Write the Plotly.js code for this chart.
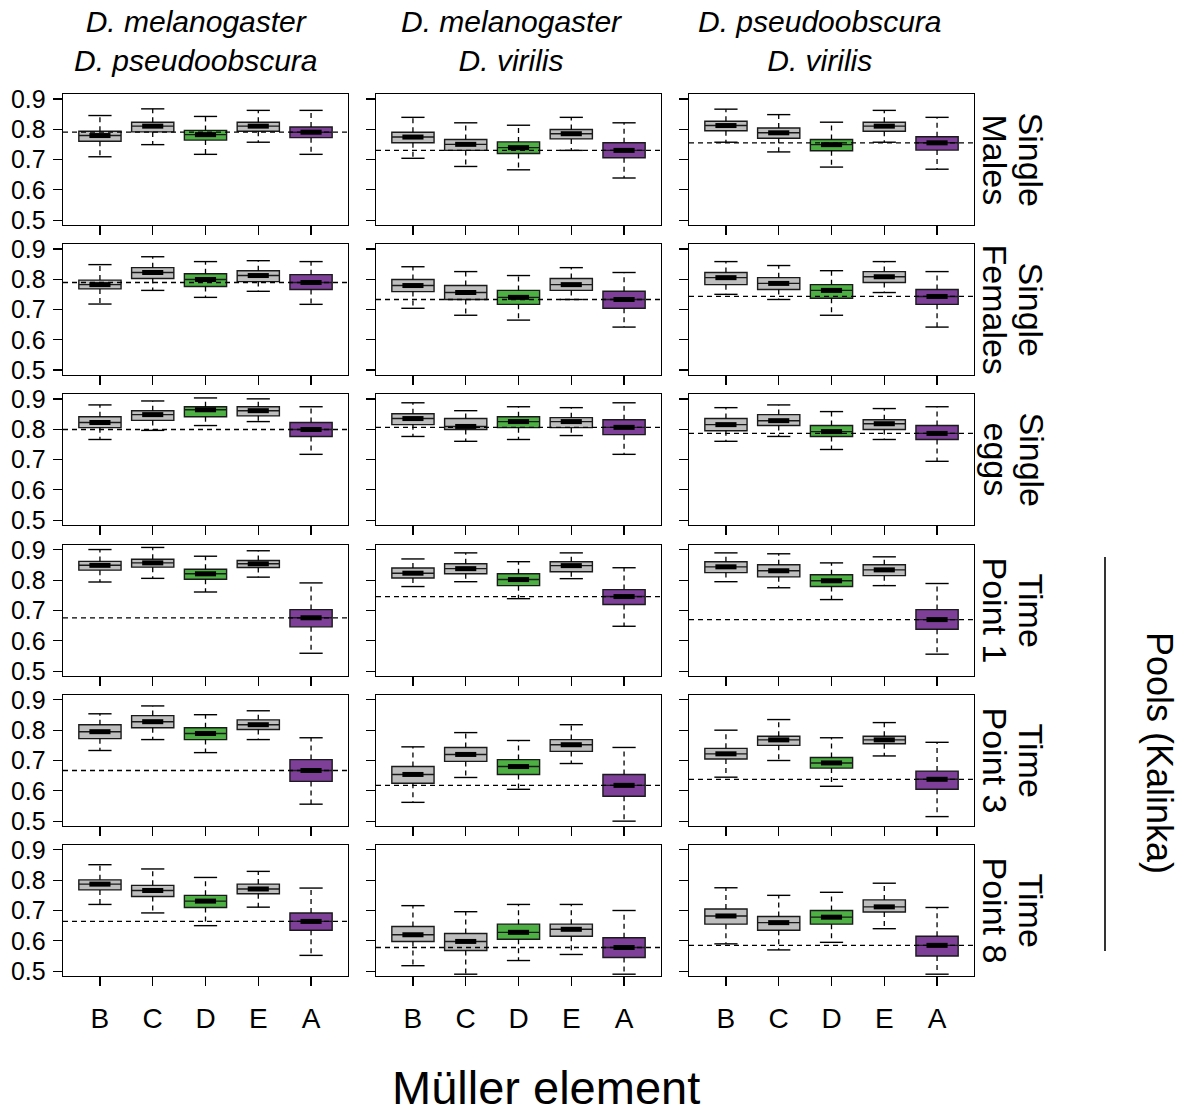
<!DOCTYPE html>
<html>
<head>
<meta charset="utf-8">
<script src="https://cdn.plot.ly/plotly-3.0.1.min.js"></script>
<style>html,body{margin:0;padding:0;background:#fff;}#chart{width:1189px;height:1115px;}</style>
</head>
<body>
<div id="chart"></div>
<script>
// ---------------- DATA ----------------
const categories = ['B', 'C', 'D', 'E', 'A'];
const colTitles = ['D. melanogaster<br>D. pseudoobscura', 'D. melanogaster<br>D. virilis', 'D. pseudoobscura<br>D. virilis'];
const rowLabelTop = ['Single', 'Single', 'Single', 'Time', 'Time', 'Time'];
const rowLabelBottom = ['Males', 'Females', 'eggs', 'Point 1', 'Point 3', 'Point 8'];
const groupLabel = 'Pools (Kalinka)';
const xTitle = 'Müller element';
const yTickVals = [0.5, 0.6, 0.7, 0.8, 0.9];
const yTickText = ['0.5', '0.6', '0.7', '0.8', '0.9'];
const boxColors = ['#BEBEBE', '#BEBEBE', '#4DB043', '#BEBEBE', '#7D3F98'];

// panels in reading order (row by row, 3 columns); each entry lists B, C, D, E, A
const lowerWhisker = [
  [0.709, 0.749, 0.717, 0.757, 0.717], [0.704, 0.677, 0.666, 0.730, 0.639], [0.757, 0.725, 0.675, 0.757, 0.668],
  [0.718, 0.763, 0.740, 0.760, 0.717], [0.704, 0.681, 0.665, 0.733, 0.642], [0.750, 0.733, 0.681, 0.756, 0.642],
  [0.766, 0.796, 0.812, 0.825, 0.717], [0.776, 0.760, 0.766, 0.779, 0.717], [0.760, 0.776, 0.733, 0.766, 0.694],
  [0.794, 0.806, 0.761, 0.810, 0.559], [0.779, 0.795, 0.739, 0.805, 0.648], [0.795, 0.775, 0.736, 0.782, 0.556],
  [0.733, 0.769, 0.726, 0.769, 0.556], [0.562, 0.644, 0.605, 0.690, 0.500], [0.645, 0.700, 0.615, 0.715, 0.515],
  [0.720, 0.692, 0.650, 0.711, 0.552], [0.518, 0.490, 0.535, 0.555, 0.490], [0.590, 0.570, 0.595, 0.640, 0.490]
];
const q1 = [
  [0.760, 0.791, 0.764, 0.793, 0.772], [0.755, 0.730, 0.720, 0.768, 0.706], [0.795, 0.770, 0.729, 0.793, 0.731],
  [0.768, 0.802, 0.776, 0.792, 0.766], [0.759, 0.733, 0.717, 0.763, 0.704], [0.782, 0.766, 0.737, 0.789, 0.717],
  [0.805, 0.829, 0.841, 0.844, 0.776], [0.815, 0.799, 0.805, 0.805, 0.782], [0.795, 0.812, 0.776, 0.799, 0.766],
  [0.833, 0.843, 0.803, 0.842, 0.646], [0.807, 0.821, 0.782, 0.828, 0.720], [0.825, 0.811, 0.779, 0.815, 0.638],
  [0.772, 0.808, 0.769, 0.802, 0.631], [0.625, 0.697, 0.654, 0.730, 0.582], [0.705, 0.750, 0.675, 0.755, 0.605],
  [0.768, 0.746, 0.710, 0.755, 0.635], [0.598, 0.568, 0.605, 0.615, 0.545], [0.655, 0.635, 0.655, 0.695, 0.550]
];
const median = [
  [0.779, 0.810, 0.782, 0.810, 0.790], [0.774, 0.750, 0.739, 0.785, 0.730], [0.812, 0.788, 0.749, 0.810, 0.755],
  [0.782, 0.822, 0.799, 0.812, 0.789], [0.779, 0.756, 0.740, 0.782, 0.733], [0.805, 0.786, 0.763, 0.808, 0.743],
  [0.822, 0.848, 0.864, 0.861, 0.799], [0.835, 0.809, 0.825, 0.825, 0.806], [0.815, 0.828, 0.792, 0.818, 0.786],
  [0.849, 0.857, 0.821, 0.854, 0.676], [0.823, 0.838, 0.802, 0.848, 0.746], [0.844, 0.831, 0.798, 0.834, 0.670],
  [0.795, 0.828, 0.789, 0.818, 0.667], [0.654, 0.720, 0.680, 0.752, 0.618], [0.722, 0.768, 0.692, 0.768, 0.638],
  [0.787, 0.766, 0.731, 0.771, 0.664], [0.620, 0.598, 0.628, 0.638, 0.578], [0.682, 0.660, 0.678, 0.712, 0.585]
];
const q3 = [
  [0.793, 0.823, 0.796, 0.823, 0.807], [0.790, 0.766, 0.758, 0.799, 0.755], [0.826, 0.804, 0.766, 0.823, 0.775],
  [0.797, 0.838, 0.818, 0.828, 0.815], [0.799, 0.779, 0.763, 0.802, 0.760], [0.822, 0.805, 0.782, 0.825, 0.766],
  [0.841, 0.861, 0.874, 0.874, 0.822], [0.851, 0.835, 0.841, 0.838, 0.831], [0.835, 0.848, 0.812, 0.831, 0.812],
  [0.862, 0.869, 0.836, 0.865, 0.703], [0.840, 0.854, 0.821, 0.861, 0.769], [0.861, 0.851, 0.818, 0.851, 0.703],
  [0.818, 0.848, 0.808, 0.834, 0.703], [0.680, 0.743, 0.703, 0.769, 0.654], [0.740, 0.780, 0.710, 0.780, 0.665],
  [0.801, 0.783, 0.750, 0.787, 0.692], [0.647, 0.624, 0.655, 0.655, 0.610], [0.705, 0.680, 0.700, 0.735, 0.615]
];
const upperWhisker = [
  [0.845, 0.867, 0.842, 0.862, 0.862], [0.839, 0.821, 0.813, 0.839, 0.821], [0.866, 0.848, 0.823, 0.862, 0.839],
  [0.848, 0.874, 0.858, 0.861, 0.858], [0.841, 0.825, 0.812, 0.838, 0.822], [0.858, 0.845, 0.828, 0.858, 0.825],
  [0.880, 0.893, 0.903, 0.900, 0.874], [0.887, 0.861, 0.874, 0.871, 0.887], [0.871, 0.880, 0.858, 0.868, 0.874],
  [0.901, 0.908, 0.879, 0.897, 0.791], [0.870, 0.890, 0.861, 0.890, 0.841], [0.890, 0.887, 0.857, 0.877, 0.789],
  [0.854, 0.880, 0.851, 0.864, 0.775], [0.745, 0.792, 0.766, 0.818, 0.743], [0.800, 0.835, 0.775, 0.825, 0.760],
  [0.851, 0.837, 0.809, 0.829, 0.774], [0.716, 0.696, 0.720, 0.720, 0.700], [0.775, 0.750, 0.760, 0.790, 0.710]
];
// dashed reference line = median of element A in each panel
const refIndex = 4;

// ---------------- LAYOUT GEOMETRY ----------------
const W = 1189, H = 1115;
const colLeft = [63, 376, 689], panelW = 285;
const rowTopPx = [94, 244, 394, 545, 695, 845], panelH = 131;
const FONT = 'Liberation Sans, Arial, Helvetica, sans-serif';
const boxW = 0.8, capHalf = 0.22, medHalf = 0.2;

const data = [];
const layout = {
  width: W, height: H, margin: {l: 0, r: 0, t: 0, b: 0},
  paper_bgcolor: '#fff', plot_bgcolor: '#fff', showlegend: false,
  font: {family: FONT, color: '#000'},
  shapes: [], annotations: []
};

for (let r = 0; r < 6; r++) {
  for (let c = 0; c < 3; c++) {
    const p = r * 3 + c;
    const n = p + 1;
    const xa = 'x' + (n > 1 ? n : '');
    const ya = 'y' + (n > 1 ? n : '');
    const xKey = 'xaxis' + (n > 1 ? n : '');
    const yKey = 'yaxis' + (n > 1 ? n : '');

    // boxes
    categories.forEach((cat, k) => {
      data.push({
        type: 'box', xaxis: xa, yaxis: ya,
        x: [k + 1], q1: [q1[p][k]], median: [median[p][k]], q3: [q3[p][k]],
        lowerfence: [q1[p][k]], upperfence: [q3[p][k]],
        width: boxW, whiskerwidth: 0, boxpoints: false,
        fillcolor: boxColors[k], line: {color: '#1a1a1a', width: 1.4},
        hoverinfo: 'skip'
      });
    });

    // whiskers (dashed), caps, median bars
    const wx = [], wy = [], cx = [], cy = [], mx = [], my = [];
    categories.forEach((cat, k) => {
      const xc = k + 1;
      wx.push(xc, xc, null, xc, xc, null);
      wy.push(q3[p][k], upperWhisker[p][k], null, q1[p][k], lowerWhisker[p][k], null);
      cx.push(xc - capHalf, xc + capHalf, null, xc - capHalf, xc + capHalf, null);
      cy.push(upperWhisker[p][k], upperWhisker[p][k], null, lowerWhisker[p][k], lowerWhisker[p][k], null);
      mx.push(xc - medHalf, xc + medHalf, null);
      my.push(median[p][k], median[p][k], null);
    });
    data.push({type: 'scatter', mode: 'lines', xaxis: xa, yaxis: ya, x: wx, y: wy,
      line: {color: '#000', width: 1.3, dash: '5px,4px'}, hoverinfo: 'skip'});
    data.push({type: 'scatter', mode: 'lines', xaxis: xa, yaxis: ya, x: cx, y: cy,
      line: {color: '#000', width: 1.4}, hoverinfo: 'skip'});
    data.push({type: 'scatter', mode: 'lines', xaxis: xa, yaxis: ya, x: mx, y: my,
      line: {color: '#000', width: 5}, hoverinfo: 'skip'});

    // reference dashed line
    layout.shapes.push({
      type: 'line', xref: xa + ' domain', yref: ya, x0: 0, x1: 1,
      y0: median[p][refIndex], y1: median[p][refIndex],
      line: {color: '#000', width: 1.3, dash: '5px,4px'}, layer: 'above'
    });

    const top = rowTopPx[r];
    layout[xKey] = {
      domain: [colLeft[c] / W, (colLeft[c] + panelW) / W],
      anchor: ya, range: [0.3, 5.7], tickvals: [1, 2, 3, 4, 5], ticktext: categories,
      showticklabels: r === 5, ticks: 'outside', ticklen: 9, tickwidth: 1.3, tickcolor: '#000',
      showline: true, mirror: true, linecolor: '#000', linewidth: 1.3,
      showgrid: false, zeroline: false, fixedrange: true,
      tickfont: {family: FONT, size: 28, color: '#000'}, ticklabelstandoff: 8
    };
    layout[yKey] = {
      domain: [1 - (top + panelH) / H, 1 - top / H],
      anchor: xa, range: [0.484, 0.916], tickvals: yTickVals, ticktext: yTickText,
      showticklabels: c === 0, ticks: 'outside', ticklen: 9, tickwidth: 1.3, tickcolor: '#000',
      showline: true, mirror: true, linecolor: '#000', linewidth: 1.3,
      showgrid: false, zeroline: false, fixedrange: true,
      tickfont: {family: FONT, size: 25, color: '#000'}, ticklabelstandoff: 2
    };
  }
}

// column titles
const colTitleX = [196, 511, 820];
colTitles.forEach((t, c) => {
  layout.annotations.push({
    xref: 'paper', yref: 'paper', x: colTitleX[c] / W, y: 1 - 41 / H,
    xanchor: 'center', yanchor: 'middle', showarrow: false,
    text: '<i>' + t + '</i>', font: {family: FONT, size: 30, color: '#000'}
  });
});

// row labels (rotated)
for (let r = 0; r < 6; r++) {
  const yc = 1 - (rowTopPx[r] + panelH / 2) / H;
  layout.annotations.push({
    xref: 'paper', yref: 'paper', x: 1031 / W, y: yc, xanchor: 'center', yanchor: 'middle',
    showarrow: false, textangle: 90, text: rowLabelTop[r], font: {family: FONT, size: 34, color: '#000'}
  });
  layout.annotations.push({
    xref: 'paper', yref: 'paper', x: 995 / W, y: yc, xanchor: 'center', yanchor: 'middle',
    showarrow: false, textangle: 90, text: rowLabelBottom[r], font: {family: FONT, size: 34, color: '#000'}
  });
}

// group label and bar
layout.annotations.push({
  xref: 'paper', yref: 'paper', x: 1160 / W, y: 1 - 753 / H, xanchor: 'center', yanchor: 'middle',
  showarrow: false, textangle: 90, text: groupLabel, font: {family: FONT, size: 36, color: '#000'}
});
layout.shapes.push({
  type: 'line', xref: 'paper', yref: 'paper', x0: 1105 / W, x1: 1105 / W,
  y0: 1 - 557 / H, y1: 1 - 951 / H, line: {color: '#000', width: 1.6}
});

// x-axis title
layout.annotations.push({
  xref: 'paper', yref: 'paper', x: 546 / W, y: 1 - 1087 / H, xanchor: 'center', yanchor: 'middle',
  showarrow: false, text: xTitle, font: {family: FONT, size: 47, color: '#000'}
});

Plotly.newPlot('chart', data, layout, {staticPlot: true, displayModeBar: false});
</script>
</body>
</html>
